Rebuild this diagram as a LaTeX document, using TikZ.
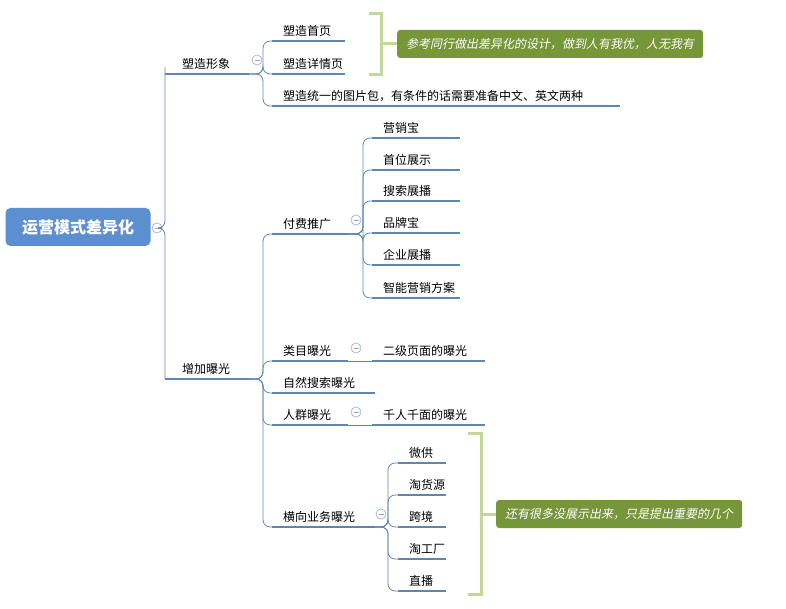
\documentclass[tikz,border=0pt]{standalone}
\usepackage{fontspec}
\newfontfamily\cjk{Noto Sans CJK SC}
\newfontfamily\cjkslant[FakeSlant=0.2]{Noto Sans CJK SC}
\definecolor{linec}{HTML}{5F86B0}
\definecolor{rootc}{HTML}{5B8FD0}
\definecolor{notec}{HTML}{77963A}
\definecolor{brac}{HTML}{C3D69B}
\tikzset{
  lbl/.style={anchor=south west,inner xsep=11pt,inner ysep=4pt,font=\cjk\fontsize{12}{14}\selectfont},
  ul/.style={draw=linec,line width=2.2pt},
  br/.style={draw=linec,line width=0.8pt,rounded corners=7pt},
  fold/.style={circle,draw=linec!70,line width=0.6pt,inner sep=0pt,minimum size=10pt},
  note/.style={fill=notec,text=white,rounded corners=3pt,inner xsep=9pt,minimum height=28pt,
    font=\cjkslant\fontsize{12}{14}\selectfont},
  bracket/.style={draw=brac,line width=3pt}
}
% 名称, 左x, 右x, 底线y, 文字
\newcommand\topic[5]{%
  \coordinate (#1-w) at (#2,#4);
  \coordinate (#1-e) at (#3,#4);
  \draw[ul] (#1-w) -- (#1-e);
  \node[lbl] (#1) at (#1-w) {#5};
}
\newcommand\foldat[2]{%
  \node[fold] (#1) at #2 {};
  \draw[linec!70,line width=0.6pt] ([xshift=-2.5pt]#1.center) -- ([xshift=2.5pt]#1.center);
}
\begin{document}
\begin{tikzpicture}[x=1pt,y=-1pt]
\useasboundingbox (0,0) rectangle (786,609);

%根节点
\node[fill=rootc,text=white,rounded corners=5pt,minimum width=145pt,minimum height=38pt,
  font=\cjk\bfseries\fontsize{16}{19}\selectfont] (root) at (78,227) {运营模式差异化};
\foldat{rootf}{(157,228)}
\coordinate (t0) at (165,0);

%塑造形象
\topic{shape}{165}{249}{74}{\hspace{6pt}塑造形象}
\foldat{shapef}{(257,60)}
\coordinate (t1) at (263,0);
\topic{home}{272}{345}{41}{塑造首页}
\topic{detail}{272}{345}{74}{塑造详情页}
\topic{pack}{272}{620}{106}{塑造统一的图片包，有条件的话需要准备中文、英文两种}
\foreach \c in {home,detail,pack}{
  \draw[br] (shape-e) -- (shape-e -| t1) |- (\c-w);
}
\draw[bracket] (369,14) -- (381,14) -- (381,75) -- (369,75) (381,44) -- (398,44);
\node[note,anchor=west] (note1) at (397,44) {参考同行做出差异化的设计，做到人有我优，人无我有};

%增加曝光
\topic{expo}{165}{249}{379}{\hspace{6pt}增加曝光}
\foreach \c in {shape,expo}{
  \draw[br] (rootf.east) -- (rootf.east -| t0) |- (\c-w);
}
\coordinate (t2) at (263,0);
\topic{paid}{272}{348}{234}{付费推广}
\foldat{paidf}{(356,220)}
\coordinate (t3) at (363,0);
\foreach \n/\y/\t in {a/138/营销宝,b/170/首位展示,c/201/搜索展播,d/233/品牌宝,e/265/企业展播,f/298/智能营销方案}{
  \topic{p\n}{372}{460}{\y}{\t}
  \draw[br] (paid-e) -- (paid-e -| t3) |- (p\n-w);
}
\topic{cat}{272}{348}{361}{类目曝光}
\foldat{catf}{(356,348)}
\topic{catc}{372}{485}{361}{二级页面的曝光}
\draw[br] (cat-e) -- (catc-w);
\topic{nat}{272}{375}{393}{自然搜索曝光}
\topic{crowd}{272}{348}{425}{人群曝光}
\foldat{crowdf}{(356,412)}
\topic{crowdc}{372}{485}{425}{千人千面的曝光}
\draw[br] (crowd-e) -- (crowdc-w);
\topic{side}{272}{375}{527}{横向业务曝光}
\foldat{sidef}{(381,514)}
\coordinate (t4) at (388,0);
\foreach \n/\y/\t in {a/463/微供,b/495/淘货源,c/527/跨境,d/559/淘工厂,e/591/直播}{
  \topic{s\n}{398}{446}{\y}{\t}
  \draw[br] (side-e) -- (side-e -| t4) |- (s\n-w);
}
\foreach \c in {paid,cat,nat,crowd,side}{
  \draw[br] (expo-e) -- (expo-e -| t2) |- (\c-w);
}
\draw[bracket] (468,433) -- (481,433) -- (481,594) -- (468,594) (481,514) -- (497,514);
\node[note,anchor=west] (note2) at (496,514) {还有很多没展示出来，只是提出重要的几个};
\end{tikzpicture}
\end{document}
